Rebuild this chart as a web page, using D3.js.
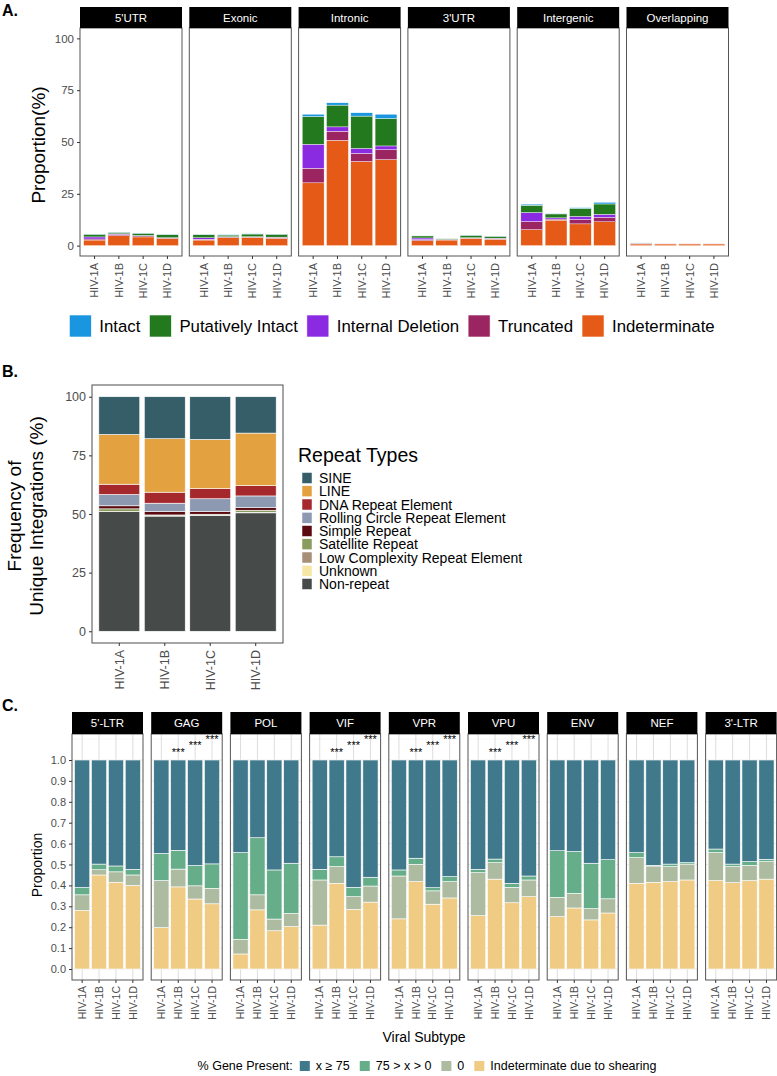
<!DOCTYPE html>
<html>
<head>
<meta charset="utf-8">
<script src="https://cdn.jsdelivr.net/npm/d3@7"></script>
<style>
  body { margin: 0; background: #fff; }
</style>
</head>
<body>
<div id="chart"></div>
<script>
// ---------- data ----------
const subtypes = ['HIV-1A', 'HIV-1B', 'HIV-1C', 'HIV-1D'];

// A. integration site location, rows = regions, cols = subtypes
const regions = ["5'UTR", 'Exonic', 'Intronic', "3'UTR", 'Intergenic', 'Overlapping'];
const proviralTypes = ['Intact', 'Putatively Intact', 'Internal Deletion', 'Truncated', 'Indeterminate'];
const proviralColors = ['#1a96e0', '#237a1e', '#8a2be2', '#9b2561', '#e45a16'];
const intact = [
  [0.1, 0.1, 0.1, 0.1],
  [0.1, 0.2, 0.1, 0.1],
  [1.1, 1.1, 1.6, 2.1],
  [0.1, 0.0, 0.1, 0.1],
  [0.5, 0.2, 0.3, 0.8],
  [0.0, 0.0, 0.0, 0.0]
];
const putativelyIntact = [
  [1.3, 0.7, 1.1, 1.5],
  [1.5, 0.8, 1.3, 1.4],
  [13.4, 10.5, 15.6, 13.2],
  [1.0, 0.3, 1.2, 0.9],
  [3.5, 1.9, 3.9, 5.0],
  [0.1, 0.0, 0.0, 0.0]
];
const internalDeletion = [
  [1.0, 0.3, 0.2, 0.1],
  [0.7, 0.1, 0.1, 0.1],
  [11.6, 2.1, 2.4, 1.8],
  [0.8, 0.1, 0.1, 0.1],
  [4.4, 0.6, 1.5, 1.5],
  [0.1, 0.0, 0.0, 0.0]
];
const truncated = [
  [0.5, 0.6, 0.5, 0.3],
  [0.4, 0.3, 0.2, 0.5],
  [7.0, 4.4, 3.9, 4.8],
  [0.5, 0.2, 0.2, 0.4],
  [3.9, 0.5, 2.1, 2.1],
  [0.3, 0.1, 0.1, 0.1]
];
const indeterminate = [
  [2.7, 4.8, 4.2, 3.4],
  [2.7, 3.9, 4.0, 3.5],
  [30.3, 50.8, 40.6, 41.5],
  [2.4, 2.7, 3.5, 3.1],
  [7.7, 12.3, 10.5, 11.5],
  [0.8, 0.8, 0.8, 0.8]
];
const yTicksA = [0, 25, 50, 75, 100];

// B. repeat types (legend order, top of stack first)
const repeatTypes = ['SINE', 'LINE', 'DNA Repeat Element', 'Rolling Circle Repeat Element', 'Simple Repeat',
  'Satellite Repeat', 'Low Complexity Repeat Element', 'Unknown', 'Non-repeat'];
const repeatColors = ['#355e69', '#e3a23f', '#a5282c', '#8c99b1', '#5a0b10', '#8a9c5d', '#a89078', '#f6e8a4', '#464b49'];
const sine = [16.1, 17.9, 18.2, 15.5];
const line = [21.2, 22.8, 21.0, 22.4];
const dnaRepeat = [4.4, 4.7, 4.3, 4.4];
const rollingCircle = [4.8, 3.6, 5.5, 5.0];
const simpleRepeat = [1.3, 1.4, 1.1, 1.1];
const satelliteRepeat = [1.1, 0.3, 0.4, 0.9];
const lowComplexity = [0.1, 0.2, 0.1, 0.2];
const unknownRepeat = [0.0, 0.0, 0.0, 0.0];
const nonRepeat = [51.0, 49.1, 49.4, 50.5];
const yTicksB = [0, 25, 50, 75, 100];

// C. gene presence, rows = genes, cols = subtypes
const genes = ["5'-LTR", 'GAG', 'POL', 'VIF', 'VPR', 'VPU', 'ENV', 'NEF', "3'-LTR"];
const presenceTypes = ['x ≥ 75', '75 > x > 0', '0', 'Indeterminate due to shearing'];
const presenceColors = ['#40798c', '#66ad8a', '#adbca0', '#f0cb84'];
const presentFull = [
  [0.610, 0.498, 0.507, 0.523],
  [0.447, 0.432, 0.505, 0.497],
  [0.443, 0.372, 0.526, 0.494],
  [0.523, 0.463, 0.609, 0.561],
  [0.526, 0.470, 0.611, 0.558],
  [0.523, 0.474, 0.590, 0.555],
  [0.434, 0.438, 0.494, 0.477],
  [0.443, 0.504, 0.498, 0.491],
  [0.426, 0.498, 0.486, 0.475]
];
const presentPartial = [
  [0.035, 0.027, 0.028, 0.027],
  [0.130, 0.090, 0.097, 0.117],
  [0.415, 0.273, 0.235, 0.240],
  [0.051, 0.047, 0.045, 0.042],
  [0.029, 0.029, 0.015, 0.024],
  [0.016, 0.017, 0.019, 0.019],
  [0.223, 0.200, 0.217, 0.187],
  [0.024, 0.003, 0.012, 0.007],
  [0.017, 0.012, 0.018, 0.011]
];
const presentZero = [
  [0.075, 0.025, 0.050, 0.050],
  [0.225, 0.085, 0.063, 0.074],
  [0.070, 0.072, 0.056, 0.063],
  [0.216, 0.080, 0.061, 0.077],
  [0.205, 0.083, 0.064, 0.078],
  [0.206, 0.079, 0.074, 0.080],
  [0.092, 0.070, 0.054, 0.068],
  [0.123, 0.078, 0.072, 0.076],
  [0.134, 0.077, 0.073, 0.084]
];
const presentIndeterminate = [
  [0.280, 0.450, 0.415, 0.400],
  [0.198, 0.393, 0.335, 0.312],
  [0.072, 0.283, 0.183, 0.203],
  [0.210, 0.410, 0.285, 0.320],
  [0.240, 0.418, 0.310, 0.340],
  [0.255, 0.430, 0.317, 0.346],
  [0.251, 0.292, 0.235, 0.268],
  [0.410, 0.415, 0.418, 0.426],
  [0.423, 0.413, 0.423, 0.430]
];
const yTicksC = [0, 0.1, 0.2, 0.3, 0.4, 0.5, 0.6, 0.7, 0.8, 0.9, 1.0];
const sigGenes = ['GAG', 'VIF', 'VPR', 'VPU'];
const sigSubtypes = ['HIV-1B', 'HIV-1C', 'HIV-1D'];
const sigHeights = [1.05, 1.08, 1.11];

// ---------- setup ----------
const width = 777, height = 1076;
const font = "'Liberation Sans', Arial, Helvetica, sans-serif";
const axisGrey = '#4d4d4d';

const svg = d3.select('#chart')
  .append('svg')
  .attr('width', width)
  .attr('height', height)
  .style('font-family', font);

svg.append('rect').attr('width', width).attr('height', height).attr('fill', 'white');

function styleAxis(g, size) {
  g.attr('font-family', null).attr('font-size', size);
  g.select('.domain').remove();
  g.selectAll('.tick line').attr('stroke', '#333');
  g.selectAll('.tick text').attr('fill', axisGrey);
}

function rotateLabels(g, off) {
  g.selectAll('.tick text')
    .attr('transform', 'rotate(-90)')
    .attr('x', -off)
    .attr('y', 0)
    .attr('dy', '0.35em')
    .style('text-anchor', 'end');
}

function drawStack(g, rows, keys, color, x, y, sw) {
  const series = d3.stack().keys(keys)(rows);
  g.selectAll('g.layer')
    .data(series)
    .join('g')
    .attr('class', 'layer')
    .attr('fill', d => color(d.key))
    .selectAll('rect')
    .data(d => d.filter(p => p[1] > p[0]))
    .join('rect')
    .attr('x', d => x(d.data.subtype))
    .attr('width', x.bandwidth())
    .attr('y', d => y(d[1]))
    .attr('height', d => y(d[0]) - y(d[1]))
    .attr('stroke', 'white')
    .attr('stroke-width', sw);
}

function panelLabel(txt, y) {
  svg.append('text').attr('x', 2).attr('y', y).text(txt)
    .style('font-weight', 'bold').style('font-size', '16px').attr('fill', 'black');
}

// ---------- A ----------
panelLabel('A.', 16);

const aStripTop = 7, aTop = 28, aBottom = 256, aLeft = 80, aPanelW = 102, aGap = 7.3;
const yA = d3.scaleLinear().domain([-5, 105]).range([aBottom, aTop]);
const xA = d3.scaleBand().domain(subtypes).range([0, aPanelW]).paddingInner(0.1).paddingOuter(0.15);
const colorA = d3.scaleOrdinal().domain(proviralTypes).range(proviralColors);
const seriesA = [intact, putativelyIntact, internalDeletion, truncated, indeterminate];

regions.forEach((region, i) => {
  const g = svg.append('g').attr('transform', `translate(${aLeft + i * (aPanelW + aGap)},0)`);
  const rows = subtypes.map((s, j) => {
    const r = { subtype: s };
    proviralTypes.forEach((t, k) => { r[t] = seriesA[k][i][j]; });
    return r;
  });
  drawStack(g, rows, proviralTypes.slice().reverse(), colorA, xA, yA, 0.4);

  g.append('rect').attr('x', 0).attr('y', aTop).attr('width', aPanelW).attr('height', aBottom - aTop)
    .attr('fill', 'none').attr('stroke', '#555').attr('stroke-width', 1);
  g.append('rect').attr('x', 0).attr('y', aStripTop).attr('width', aPanelW).attr('height', aTop - aStripTop)
    .attr('fill', 'black');
  g.append('text').attr('x', aPanelW / 2).attr('y', (aStripTop + aTop) / 2).attr('dy', '0.35em')
    .attr('text-anchor', 'middle').attr('fill', 'white').style('font-size', '11.5px').text(region);

  g.append('g').attr('transform', `translate(0,${aBottom})`)
    .call(d3.axisBottom(xA).tickSize(3).tickSizeOuter(0))
    .call(a => styleAxis(a, 11))
    .call(a => rotateLabels(a, 7));

  if (i === 0) {
    g.append('g')
      .call(d3.axisLeft(yA).tickValues(yTicksA).tickSize(3).tickSizeOuter(0))
      .call(a => styleAxis(a, 11.5));
  }
});

svg.append('text')
  .attr('transform', 'translate(38,145) rotate(-90)')
  .attr('dy', '0.35em')
  .attr('text-anchor', 'middle')
  .style('font-size', '19px')
  .text('Proportion(%)');

// legend A
const legA = svg.append('g').attr('transform', 'translate(0,315)');
let lx = 0;
proviralTypes.forEach((t, k) => {
  legA.append('rect').attr('x', lx).attr('y', 0).attr('width', 22).attr('height', 22)
    .attr('fill', proviralColors[k]).attr('stroke', 'white').attr('stroke-width', 0.6);
  const tx = legA.append('text').attr('x', lx + 30).attr('y', 11).attr('dy', '0.35em')
    .style('font-size', '16.8px').text(t);
  lx += 30 + tx.node().getComputedTextLength() + 9;
});
legA.attr('transform', `translate(${392 - (lx - 9) / 2},315)`);

// ---------- B ----------
panelLabel('B.', 377);

const bLeft = 92, bRight = 283, bTop = 385, bBottom = 643;
const xB = d3.scaleBand().domain(subtypes).range([bLeft, bRight]).paddingInner(0.1).paddingOuter(0.15);
const yB = d3.scaleLinear().domain([-5, 105]).range([bBottom, bTop]);
const colorB = d3.scaleOrdinal().domain(repeatTypes).range(repeatColors);
const seriesB = [sine, line, dnaRepeat, rollingCircle, simpleRepeat, satelliteRepeat, lowComplexity, unknownRepeat, nonRepeat];

const rowsB = subtypes.map((s, j) => {
  const r = { subtype: s };
  repeatTypes.forEach((t, k) => { r[t] = seriesB[k][j]; });
  return r;
});
drawStack(svg.append('g'), rowsB, repeatTypes.slice().reverse(), colorB, xB, yB, 0.6);

svg.append('rect').attr('x', bLeft).attr('y', bTop).attr('width', bRight - bLeft).attr('height', bBottom - bTop)
  .attr('fill', 'none').attr('stroke', '#4d4d4d').attr('stroke-width', 1);

svg.append('g').attr('transform', `translate(0,${bBottom})`)
  .call(d3.axisBottom(xB).tickSize(3).tickSizeOuter(0))
  .call(a => styleAxis(a, 12.5))
  .call(a => rotateLabels(a, 7));
svg.append('g').attr('transform', `translate(${bLeft},0)`)
  .call(d3.axisLeft(yB).tickValues(yTicksB).tickSize(3).tickSizeOuter(0))
  .call(a => styleAxis(a, 12.5));

const yTitleB = svg.append('text')
  .attr('transform', 'translate(0,516) rotate(-90)')
  .attr('text-anchor', 'middle')
  .style('font-size', '19px');
yTitleB.append('tspan').attr('x', 0).attr('y', 20.5).text('Frequency of');
yTitleB.append('tspan').attr('x', 0).attr('y', 42.5).text('Unique Integrations (%)');

const legB = svg.append('g').attr('transform', 'translate(298,0)');
legB.append('text').attr('x', 0).attr('y', 462).style('font-size', '19.5px').text('Repeat Types');
repeatTypes.forEach((t, k) => {
  const cy = 478 + k * 13.25;
  legB.append('rect').attr('x', 4).attr('y', cy - 5.5).attr('width', 10).attr('height', 11)
    .attr('fill', repeatColors[k]).attr('stroke', 'white').attr('stroke-width', 0.5);
  legB.append('text').attr('x', 21).attr('y', cy).attr('dy', '0.36em')
    .style('font-size', '14px').text(t);
});

// ---------- C ----------
panelLabel('C.', 711);

const cStripTop = 712, cTop = 734, cBottom = 980, cLeft = 72, cPanelW = 71, cGap = 8.2;
const yC = d3.scaleLinear().domain([-0.0526, 1.1244]).range([cBottom, cTop]);
const xC = d3.scaleBand().domain(subtypes).range([0, cPanelW]).paddingInner(0.1).paddingOuter(0.15);
const colorC = d3.scaleOrdinal().domain(presenceTypes).range(presenceColors);
const seriesC = [presentFull, presentPartial, presentZero, presentIndeterminate];
const minorC = [0.05, 0.15, 0.25, 0.35, 0.45, 0.55, 0.65, 0.75, 0.85, 0.95, 1.1];

genes.forEach((gene, i) => {
  const g = svg.append('g').attr('transform', `translate(${cLeft + i * (cPanelW + cGap)},0)`);

  // grid
  g.selectAll('line.minor').data(minorC).join('line')
    .attr('x1', 0).attr('x2', cPanelW).attr('y1', d => yC(d)).attr('y2', d => yC(d))
    .attr('stroke', '#f0f0f0').attr('stroke-width', 0.6);
  g.selectAll('line.major').data(yTicksC).join('line')
    .attr('x1', 0).attr('x2', cPanelW).attr('y1', d => yC(d)).attr('y2', d => yC(d))
    .attr('stroke', '#e3e3e3').attr('stroke-width', 0.8);
  g.selectAll('line.vgrid').data(subtypes).join('line')
    .attr('x1', d => xC(d) + xC.bandwidth() / 2).attr('x2', d => xC(d) + xC.bandwidth() / 2)
    .attr('y1', cTop).attr('y2', cBottom)
    .attr('stroke', '#d4d4d4').attr('stroke-width', 0.8);

  const rows = subtypes.map((s, j) => {
    const r = { subtype: s };
    presenceTypes.forEach((t, k) => { r[t] = seriesC[k][i][j]; });
    return r;
  });
  drawStack(g, rows, presenceTypes.slice().reverse(), colorC, xC, yC, 0.6);

  if (sigGenes.includes(gene)) {
    sigSubtypes.forEach((s, k) => {
      g.append('text')
        .attr('x', xC(s) + xC.bandwidth() / 2)
        .attr('y', yC(sigHeights[k]))
        .attr('dy', '0.55em')
        .attr('text-anchor', 'middle')
        .style('font-size', '11px')
        .text('***');
    });
  }

  g.append('rect').attr('x', 0).attr('y', cTop).attr('width', cPanelW).attr('height', cBottom - cTop)
    .attr('fill', 'none').attr('stroke', '#555').attr('stroke-width', 1);
  g.append('rect').attr('x', 0).attr('y', cStripTop).attr('width', cPanelW).attr('height', cTop - cStripTop)
    .attr('fill', 'black');
  g.append('text').attr('x', cPanelW / 2).attr('y', (cStripTop + cTop) / 2).attr('dy', '0.35em')
    .attr('text-anchor', 'middle').attr('fill', 'white').style('font-size', '11.5px').text(gene);

  g.append('g').attr('transform', `translate(0,${cBottom})`)
    .call(d3.axisBottom(xC).tickSize(3).tickSizeOuter(0))
    .call(a => styleAxis(a, 10.5))
    .call(a => rotateLabels(a, 6));

  if (i === 0) {
    g.append('g')
      .call(d3.axisLeft(yC).tickValues(yTicksC).tickFormat(d3.format('.1f')).tickSize(3).tickSizeOuter(0))
      .call(a => styleAxis(a, 11));
  }
});

svg.append('text')
  .attr('transform', 'translate(37,865) rotate(-90)')
  .attr('dy', '0.35em')
  .attr('text-anchor', 'middle')
  .style('font-size', '14px')
  .text('Proportion');

svg.append('text')
  .attr('x', 424).attr('y', 1042)
  .attr('text-anchor', 'middle')
  .style('font-size', '14px')
  .text('Viral Subtype');

// legend C
const legC = svg.append('g');
const legTitle = legC.append('text').attr('x', 0).attr('y', 0).attr('dy', '0.35em')
  .style('font-size', '12.5px').text('% Gene Present:');
let cx = legTitle.node().getComputedTextLength() + 7;
presenceTypes.forEach((t, k) => {
  legC.append('rect').attr('x', cx).attr('y', -5).attr('width', 10).attr('height', 10)
    .attr('fill', presenceColors[k]);
  const tx = legC.append('text').attr('x', cx + 16).attr('y', 0).attr('dy', '0.35em')
    .style('font-size', '12.5px').text(t);
  cx += 16 + tx.node().getComputedTextLength() + 10;
});
legC.attr('transform', `translate(${427 - (cx - 10) / 2},1066)`);
</script>
</body>
</html>
